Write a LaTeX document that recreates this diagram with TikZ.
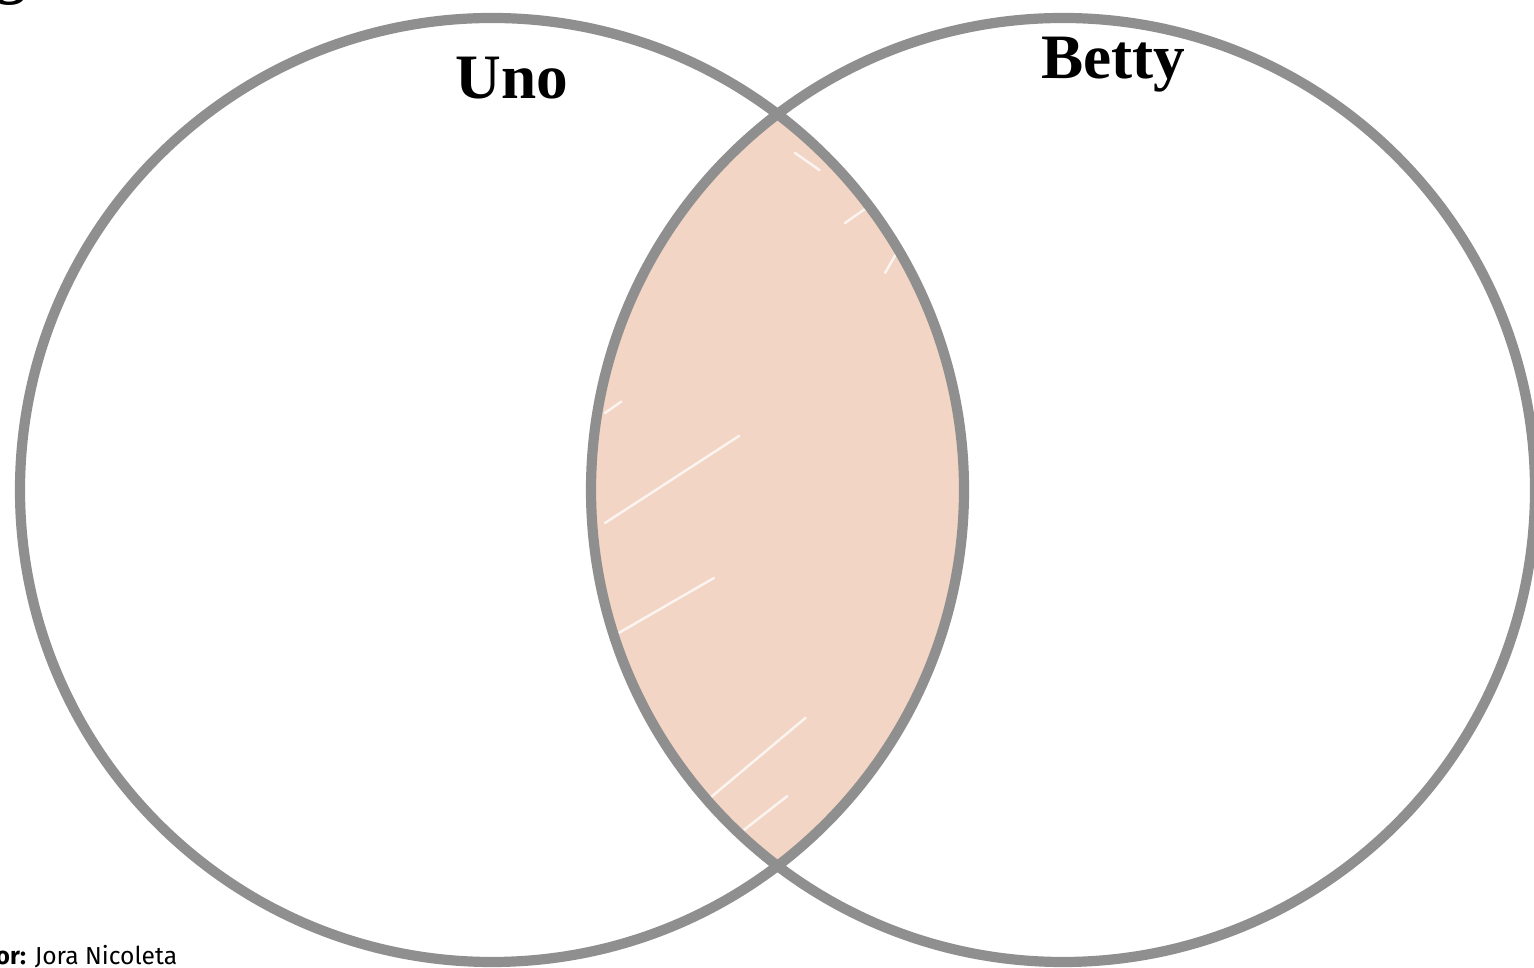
\documentclass[tikz,border=0pt]{standalone}
\usepackage{fontspec}
\usepackage{xcolor}
\usepackage{tikz}
\usetikzlibrary{positioning,calc}
\newfontfamily\titlefont{Liberation Serif}
\newfontfamily\creditfont{Fira Sans}
\definecolor{ring}{HTML}{8F8F8F}
\definecolor{lens}{HTML}{F2D5C4}

\begin{document}
\begin{tikzpicture}[
  ringline/.style={draw=ring,line width=2.9pt},
  setname/.style={font=\titlefont\fontsize{18}{20}\selectfont\bfseries,anchor=base,inner sep=0pt},
  credit/.style={font=\creditfont\fontsize{7}{8}\selectfont,anchor=base west,inner sep=0pt},
  streak/.style={draw=white,line width=0.7pt,line cap=round}
]
\useasboundingbox (0,0) rectangle (15.34,9.68);
\coordinate (cu) at (4.92,4.78);
\coordinate (cb) at (10.63,4.78);
% overlap of the two sets
\begin{scope}
  \clip (cu) circle (4.72);
  \fill[lens] (cb) circle (4.72);
  \foreach \x/\y/\a/\l in {7.95/8.15/-35/0.3,8.45/7.45/35/0.35,8.85/6.95/60/0.25,
                           6.05/5.55/35/0.2,6.05/4.45/33/1.6,6.10/3.30/30/1.2,
                           7.10/1.70/40/1.25,7.40/1.35/38/0.6}
    \draw[streak,opacity=0.75] (\x,\y) -- ++(\a:\l);
\end{scope}
\draw[ringline] (cu) circle (4.72);
\draw[ringline] (cb) circle (4.72);
\node[setname] (uno) at (5.12,8.69) {Uno};
\node[setname] (betty) at (11.13,8.89) {Betty};
\node[credit] (autor) at (-0.05,0.03) {\textbf{or:} Jora Nicoleta};
\node[setname,anchor=base west] (titlu) at (-0.06,9.76) {g};
\end{tikzpicture}
\end{document}
